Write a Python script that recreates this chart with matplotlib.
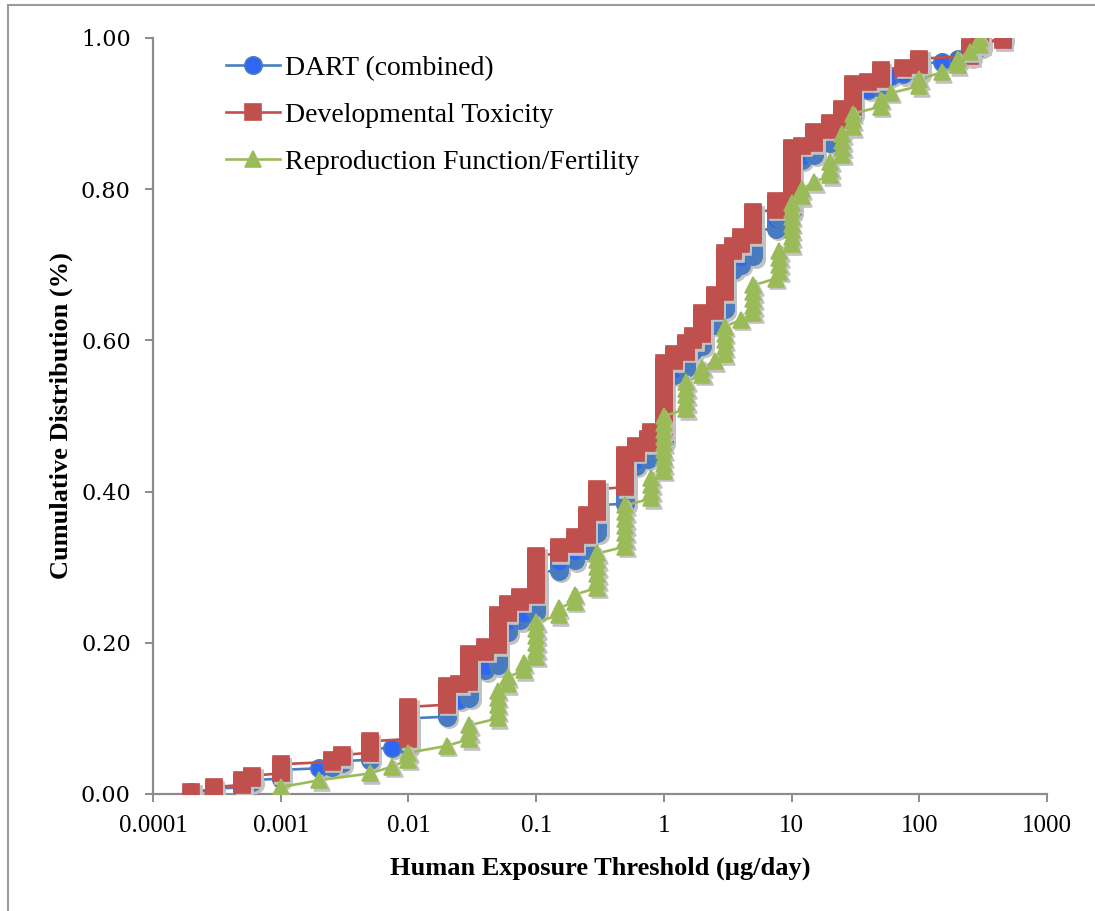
import numpy as np
import matplotlib
matplotlib.use("Agg")
import matplotlib.pyplot as plt
import matplotlib.transforms as mtransforms
from matplotlib.ticker import FixedLocator, FixedFormatter, FormatStrFormatter
from matplotlib.patches import Rectangle

# Human exposure thresholds (ug/day) and number of chemicals at each value
dev_x = [0.0002, 0.0003, 0.0005, 0.0006, 0.001, 0.0025, 0.003, 0.005, 0.01, 0.02,
         0.025, 0.03, 0.04, 0.05, 0.06, 0.075, 0.1, 0.15, 0.2, 0.25,
         0.3, 0.5, 0.6, 0.75, 0.8, 1, 1.2, 1.5, 1.7, 2,
         2.5, 3, 3.5, 4, 5, 7.5, 10, 12, 15, 20,
         25, 30, 40, 50, 75, 100, 250, 300, 450]
dev_n = [1, 2, 3, 2, 5, 2, 2, 6, 15, 9,
         1, 13, 3, 14, 5, 3, 18, 4, 4, 10,
         11, 15, 4, 3, 3, 30, 4, 5, 3, 10,
         8, 18, 3, 4, 11, 5, 23, 1, 6, 4,
         6, 11, 1, 5, 1, 4, 5, 2, 2]

rep_x = [0.001, 0.002, 0.005, 0.0075, 0.01, 0.02, 0.03, 0.05, 0.06, 0.08,
         0.1, 0.15, 0.2, 0.3, 0.5, 0.8, 1, 1.5, 2, 2.5,
         3, 4, 5, 7.5, 8, 10, 12, 15, 20, 25,
         30, 50, 60, 100, 150, 200, 250, 300]
rep_n = [1, 1, 1, 1, 2, 1, 3, 5, 2, 2,
         6, 2, 2, 6, 7, 4, 9, 5, 2, 1,
         5, 1, 5, 1, 4, 7, 2, 1, 3, 4,
         3, 2, 1, 2, 1, 2, 1, 2]

dart_x = [0.0002, 0.0003, 0.0005, 0.0006, 0.001, 0.002, 0.0025, 0.003, 0.005, 0.0075,
          0.01, 0.02, 0.025, 0.03, 0.04, 0.05, 0.06, 0.075, 0.08, 0.1,
          0.15, 0.2, 0.25, 0.3, 0.5, 0.6, 0.75, 0.8, 1, 1.2,
          1.5, 1.7, 2, 2.5, 3, 3.5, 4, 5, 7.5, 8,
          10, 12, 15, 20, 25, 30, 40, 50, 60, 75,
          100, 150, 200, 250, 300, 450]
dart_n = [1, 2, 3, 2, 6, 1, 2, 2, 7, 1,
          17, 10, 1, 16, 3, 19, 7, 3, 2, 24,
          6, 6, 10, 17, 22, 4, 3, 7, 39, 4,
          10, 3, 12, 9, 23, 3, 5, 16, 6, 4,
          30, 3, 7, 7, 10, 14, 1, 7, 1, 1,
          6, 1, 2, 6, 4, 2]

x_ticks = [0.0001, 0.001, 0.01, 0.1, 1, 10, 100, 1000]
x_tick_labels = ["0.0001", "0.001", "0.01", "0.1", "1", "10", "100", "1000"]
y_ticks = [0.0, 0.2, 0.4, 0.6, 0.8, 1.0]


def ecdf(xs, counts):
    vals = np.repeat(np.asarray(xs, dtype=float), counts)
    frac = np.arange(1, len(vals) + 1) / len(vals)
    return vals, frac


serif = "Liberation Serif"
fig = plt.figure(figsize=(10.95, 9.11), dpi=100)
ax = fig.add_axes([153 / 1095, 117 / 911, 894 / 1095, 756 / 911])

# drop shadow under the markers (solid colour so stacked markers don't darken it)
shadow_tr = mtransforms.offset_copy(ax.transData, fig=fig, x=2.5, y=-2.5, units="dots")

series = [
    ("DART (combined)", dart_x, dart_n, "#4a7ebb", "#2f66f2", "o", 12.5, 3),
    ("Developmental Toxicity", dev_x, dev_n, "#c0504d", "#c0504d", "s", 12, 4),
    ("Reproduction Function/Fertility", rep_x, rep_n, "#9bbb59", "#9bbb59", "^", 11.5, 5),
]

handles = []
for label, xs, ns, col, face, mk, ms, z in series:
    vx, vy = ecdf(xs, ns)
    ax.plot(vx, vy, color=col, lw=1.9, zorder=z)
    ax.plot(vx, vy, ls="none", marker=mk, ms=ms, mfc="#c2c2c2", mec="#c2c2c2", mew=1.2,
            zorder=z + 0.3, transform=shadow_tr)
    ax.plot(vx, vy, ls="none", marker=mk, ms=ms, mfc=face, mec=col, mew=1.2, zorder=z + 0.5)
    h, = ax.plot([], [], color=col, lw=1.9, marker=mk, ms=ms, mfc=face, mec=col, mew=1.2)
    handles.append((h, label))

ax.set_xscale("log")
ax.set_xlim(0.0001, 1000)
ax.set_ylim(0, 1.0)
ax.xaxis.set_major_locator(FixedLocator(x_ticks))
ax.xaxis.set_major_formatter(FixedFormatter(x_tick_labels))
ax.xaxis.set_minor_locator(FixedLocator([]))
ax.yaxis.set_major_locator(FixedLocator(y_ticks))
ax.yaxis.set_major_formatter(FormatStrFormatter("%.2f"))

for s in ["top", "right"]:
    ax.spines[s].set_visible(False)
for s in ["left", "bottom"]:
    ax.spines[s].set_color("#8c8c8c")
    ax.spines[s].set_linewidth(1.6)
ax.tick_params(axis="both", direction="out", length=6, width=1.4, color="#8c8c8c")
ax.tick_params(axis="x", pad=9, labelsize=18)
ax.tick_params(axis="y", pad=10, labelsize=16)
for t in ax.get_xticklabels():
    t.set_fontfamily(serif)
for t in ax.get_yticklabels():
    t.set_fontfamily("DejaVu Serif")

ax.set_xlabel("Human Exposure Threshold (µg/day)", fontfamily=serif, fontweight="bold", fontsize=19)
ax.set_ylabel("Cumulative Distribution (%)", fontfamily=serif, fontweight="bold", fontsize=19)
ax.xaxis.set_label_coords(0.5, -0.083)
ax.yaxis.set_label_coords(-0.09, 0.5)

leg = ax.legend([h for h, _ in handles], [l for _, l in handles], loc="upper left",
                bbox_to_anchor=(0.054, 1.01), frameon=False, handlelength=1.95,
                handletextpad=0.15, labelspacing=0.78,
                prop={"family": serif, "size": 20})

# outer chart border
fig.add_artist(Rectangle((8 / 1095, -0.05), 1.2, (911 - 5) / 911 + 0.05, transform=fig.transFigure,
                         fill=False, edgecolor="#9a9a9a", lw=1.5))

fig.savefig("out.png", dpi=100)
